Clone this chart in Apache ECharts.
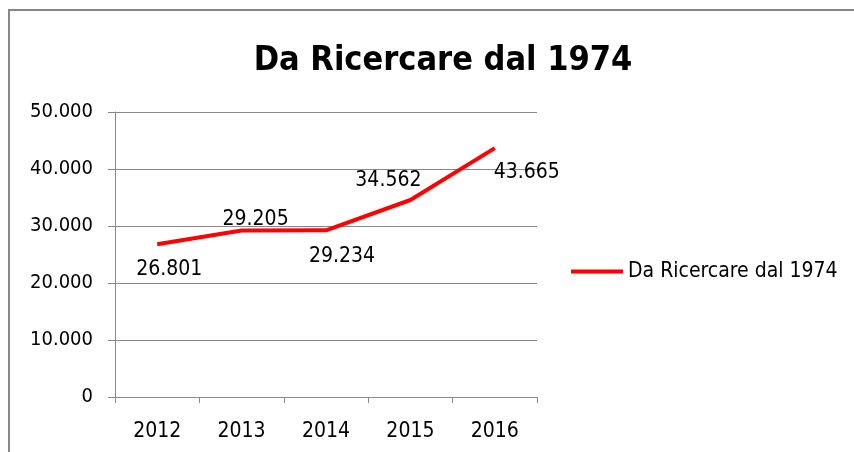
<!DOCTYPE html>
<html>
<head>
<meta charset="utf-8">
<script src="https://cdn.jsdelivr.net/npm/echarts@6/dist/echarts.min.js"></script>
<style>
    html,body{margin:0;padding:0;background:#fff;}
    #chart{width:854px;height:452px;}
</style>
</head>
<body>
<div id="chart"></div>
<script>
    var anni = ['2012', '2013', '2014', '2015', '2016'];
    var valori = [26801, 29205, 29234, 34562, 43665];
    var posizioni = ['bottom', 'top', 'bottom', 'top', 'right'];
    var nomeSerie = 'Da Ricercare dal 1974';

    var fnt = '"Liberation Sans Narrow", "DejaVu Sans Condensed", Lato, sans-serif';

    function fmt(v){
        // punto come separatore delle migliaia
        return String(v).replace(/\B(?=(\d{3})+(?!\d))/g, '.');
    }

    var labelOffsets = [[12, 10], [14, 5], [16, 11], [-22, -4], [-6, 24]];

    var dati = valori.map(function(v, i){
        return {
            value: v,
            label: {position: posizioni[i], offset: labelOffsets[i]}
        };
    });

    var myChart = echarts.init(document.getElementById('chart'));
    var option = {
        animation: false,
        title: {
            text: nomeSerie,
            top: 39,
            left: 438,
            textAlign: 'center',
            textStyle: {fontFamily: fnt, fontSize: 34, fontWeight: 'bold', color: '#000'}
        },
        legend: {
            data: [nomeSerie],
            orient: 'vertical',
            left: 566,
            top: 256,
            itemWidth: 52,
            itemHeight: 4,
            itemGap: 0,
            icon: 'rect',
            textStyle: {fontFamily: fnt, fontSize: 21, color: '#000'}
        },
        grid: {left: 115, right: 317, top: 112, bottom: 55},
        xAxis: {
            type: 'category',
            data: anni,
            boundaryGap: true,
            axisLine: {lineStyle: {color: '#888', width: 1}},
            axisTick: {show: true, length: 6, lineStyle: {color: '#888'}},
            axisLabel: {fontFamily: fnt, fontSize: 21, color: '#000', margin: 24}
        },
        yAxis: {
            type: 'value',
            min: 0,
            max: 50000,
            interval: 10000,
            axisLine: {show: true, lineStyle: {color: '#888', width: 1}},
            axisTick: {show: true, length: 7, lineStyle: {color: '#888'}},
            splitLine: {show: true, lineStyle: {color: '#888', width: 1}},
            axisLabel: {
                fontFamily: fnt, fontSize: 20, color: '#000', margin: 22,
                formatter: function(v){ return fmt(v); }
            }
        },
        series: [{
            name: nomeSerie,
            type: 'line',
            data: dati,
            symbol: 'circle',
            symbolSize: 0,
            lineStyle: {color: '#ff0000', width: 4},
            itemStyle: {color: '#ff0000'},
            label: {
                show: true,
                fontFamily: fnt,
                fontSize: 21,
                color: '#000',
                formatter: function(p){ return fmt(p.value); }
            }
        }],
        graphic: [
            {type: 'line', shape: {x1: 8, y1: 10, x2: 854, y2: 10}, style: {stroke: '#888', lineWidth: 2}},
            {type: 'line', shape: {x1: 9, y1: 10, x2: 9, y2: 452}, style: {stroke: '#888', lineWidth: 2}}
        ]
    };
    myChart.setOption(option);
</script>
</body>
</html>
